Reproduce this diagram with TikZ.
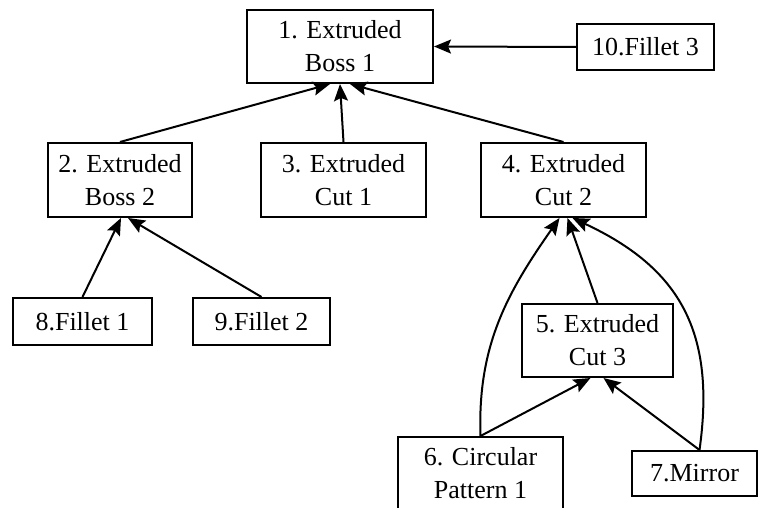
\documentclass[tikz,border=0pt]{standalone}
\usepackage{fontspec}
\setmainfont{Liberation Serif}
\usetikzlibrary{arrows.meta,positioning}

\begin{document}
\begin{tikzpicture}[
	x = 1pt, y = 1pt,
	> = {Stealth[length=17pt, width=14pt, inset=3pt]}, % arrow head style
	line width = 2pt, % line style
	F/.style={rectangle, draw=black, inner sep=0pt, align=center, font=\fontsize{26}{33}\selectfont},  % feature box
	]
	\useasboundingbox (0,0) rectangle (758,508);

	% Nodes and their positions
	\node[F, minimum width=186pt, minimum height=73pt] (B1) at (340,461.5) {1. Extruded\\Boss 1};
	\node[F, minimum width=137pt, minimum height=46pt] (B10) at (645.5,461) {10.Fillet 3};

	\node[F, minimum width=144pt, minimum height=74pt] (B2) at (120,328) {2. Extruded\\Boss 2};
	\node[F, minimum width=165pt, minimum height=74pt] (B3) at (343.5,328) {3. Extruded\\Cut 1};
	\node[F, minimum width=165pt, minimum height=74pt] (B4) at (563.5,328) {4. Extruded\\Cut 2};

	\node[F, minimum width=139pt, minimum height=47pt] (B8) at (82.5,186.5) {8.Fillet 1};
	\node[F, minimum width=137pt, minimum height=47pt] (B9) at (261.5,186.5) {9.Fillet 2};
	\node[F, minimum width=151pt, minimum height=73pt] (B5) at (597.5,167.5) {5. Extruded\\Cut 3};

	\node[F, minimum width=165pt, minimum height=73pt] (B6) at (480.5,34.5) {6. Circular\\Pattern 1};
	\node[F, minimum width=125pt, minimum height=45pt] (B7) at (694.5,34.5) {7.Mirror};

	% Paths connecting nodes
	\draw[->] (B10.west) -- (B1.east);
	\draw[->] (B2.north) -- ([xshift=-10pt]B1.south);
	\draw[->] (B3.north) -- (B1.south);
	\draw[->] (B4.north) -- ([xshift=10pt]B1.south);

	\draw[->] (B8.north) -- ([xshift=1pt]B2.south);
	\draw[->] (B9.north) -- ([xshift=8pt]B2.south);

	\draw[->] (B5.north) -- ([xshift=4pt]B4.south);
	\draw[->] (B6.north) to[out=92, in=235] ([xshift=-4pt]B4.south);
	\draw[->] ([xshift=5pt]B7.north) to[out=82, in=-25, looseness=1.15] ([xshift=9pt]B4.south);

	\draw[->] (B6.north) -- ([xshift=-7pt]B5.south);
	\draw[->] ([xshift=5pt]B7.north) -- ([xshift=6pt]B5.south);

\end{tikzpicture}
\end{document}
